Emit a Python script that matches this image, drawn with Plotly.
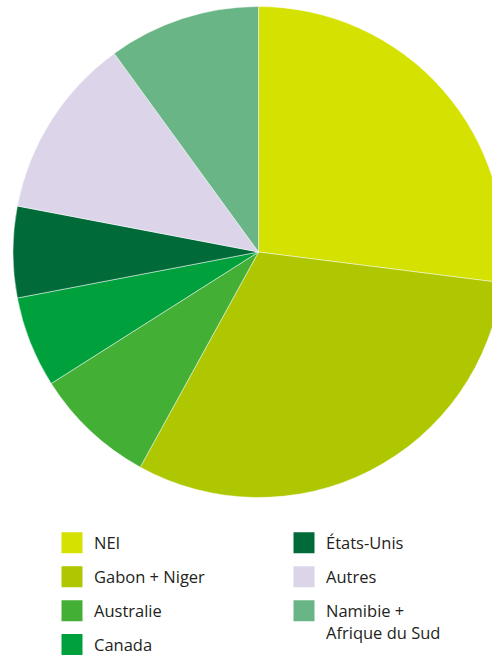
import plotly.graph_objects as go

labels = ["NEI", "Gabon + Niger", "Australie", "Canada", "États-Unis", "Autres", "Namibie +<br>Afrique du Sud"]
values = [27, 31, 8, 6, 6, 12, 10]
legend_col = ["legend", "legend", "legend", "legend", "legend2", "legend2", "legend2"]

colors = ["#d5e100", "#afc700", "#44af35", "#00a03d", "#006b38", "#dcd5e9", "#69b586"]

# figure is larger than the 492x658 window; the page is cropped like the reference
W, H = 520, 700
cx, cy, r = 258.5, 252, 245.5

fig = go.Figure()
fig.add_trace(go.Pie(
    labels=labels, values=values, sort=False, direction="clockwise", rotation=0,
    marker=dict(colors=colors, line=dict(color="rgba(255,255,255,0.6)", width=0.8)),
    textinfo="none", hoverinfo="label+percent", showlegend=False,
    domain=dict(x=[(cx - r) / W, (cx + r) / W], y=[(H - cy - r) / H, (H - cy + r) / H]),
))

for lab, col, lg in zip(labels, colors, legend_col):
    fig.add_trace(go.Scatter(
        x=[None], y=[None], mode="markers", name=lab, legend=lg, legendgroup=lab,
        marker=dict(symbol="square", size=16, color=col, line=dict(color=col, width=5)),
    ))

font = dict(family="Open Sans, sans-serif", size=16.5, color="#231f20")
leg_top = 525.5
fig.update_layout(
    autosize=False,
    width=W, height=H, margin=dict(l=0, r=0, t=0, b=0),
    paper_bgcolor="white", plot_bgcolor="white",
    xaxis=dict(visible=False), yaxis=dict(visible=False),
    font=font,
    legend=dict(x=50 / W, y=1 - leg_top / H, xanchor="left", yanchor="top", bgcolor="rgba(0,0,0,0)",
                tracegroupgap=9.5, valign="top", itemwidth=34, font=font),
    legend2=dict(x=282 / W, y=1 - leg_top / H, xanchor="left", yanchor="top", bgcolor="rgba(0,0,0,0)",
                 tracegroupgap=9.5, valign="top", itemwidth=34, font=font),
)

fig.write_html(
    "out.html",
    config={"displayModeBar": False, "responsive": False},
    post_script="document.body.style.margin='0';document.body.style.overflow='hidden';document.documentElement.style.overflow='hidden';",
)
